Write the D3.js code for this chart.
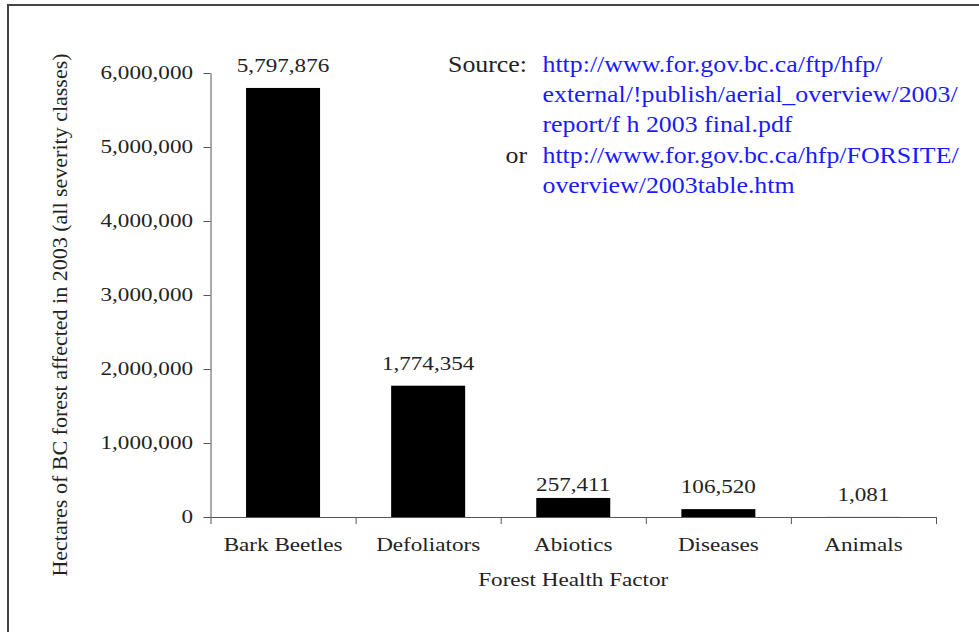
<!DOCTYPE html>
<html>
<head>
<meta charset="utf-8">
<script src="https://cdn.jsdelivr.net/npm/d3@7"></script>
<style>
  html, body { margin: 0; padding: 0; background: #fff; }
  svg { display: block; }
  text { font-family: "Liberation Serif", "Times New Roman", serif; }
</style>
</head>
<body>
<div id="chart"></div>
<script>
// --- DATA ---
const categories = ["Bark Beetles", "Defoliators", "Abiotics", "Diseases", "Animals"];
const hectares = [5797876, 1774354, 257411, 106520, 1081];
const yTicks = [0, 1000000, 2000000, 3000000, 4000000, 5000000, 6000000];
const sourceLines = [
    { lead: "Source:", text: "http://www.for.gov.bc.ca/ftp/hfp/" },
    { lead: "", text: "external/!publish/aerial_overview/2003/" },
    { lead: "", text: "report/f h 2003 final.pdf" },
    { lead: "or", text: "http://www.for.gov.bc.ca/hfp/FORSITE/" },
    { lead: "", text: "overview/2003table.htm" }
];

// --- SETUP ---
const width = 979, height = 632;
const SX = 1.25;            // the picture's type is stretched sideways
const ink = "#222", axisInk = "#555";

const svg = d3.select("#chart").append("svg")
    .attr("width", width)
    .attr("height", height);

// outer frame, runs off the right and bottom edge
svg.append("rect")
    .attr("x", 8).attr("y", 5)
    .attr("width", 990).attr("height", 650)
    .attr("fill", "none")
    .attr("stroke", "#444")
    .attr("stroke-width", 2);

const x0 = 210.5, x1 = 936, yBase = 517, yTop = 73;

const x = d3.scaleBand()
    .domain(categories)
    .range([x0, x1])
    .paddingInner(0.49)
    .paddingOuter(0.245);

const y = d3.scaleLinear()
    .domain([0, 6000000])
    .range([yBase, yTop]);

const fmt = d3.format(",");

// --- AXES ---
const yAxis = svg.append("g")
    .attr("transform", `translate(${x0},0)`)
    .call(d3.axisLeft(y).tickValues(yTicks).tickFormat(fmt).tickSizeInner(7).tickSizeOuter(0).tickPadding(7));
yAxis.select(".domain").attr("stroke", axisInk);
yAxis.selectAll(".tick line").attr("stroke", axisInk);
yAxis.selectAll(".tick text")
    .attr("fill", ink)
    .attr("font-size", 18.5)
    .attr("font-family", "Liberation Serif, serif")
    .attr("transform", `scale(${SX},1)`);

// tick marks sit between the categories
const xEdge = d3.scaleLinear().domain([0, categories.length]).range([x0, x1]);
const xTicks = svg.append("g")
    .attr("transform", `translate(0,${yBase})`)
    .call(d3.axisBottom(xEdge).ticks(categories.length).tickFormat("").tickSizeInner(7).tickSizeOuter(0));
xTicks.select(".domain").attr("stroke", axisInk);
xTicks.selectAll(".tick line").attr("stroke", axisInk);

const xLabels = svg.append("g")
    .attr("transform", `translate(0,${yBase})`)
    .call(d3.axisBottom(x).tickSize(0).tickPadding(0));
xLabels.select(".domain").remove();
xLabels.selectAll(".tick text")
    .attr("y", 34)
    .attr("dy", null)
    .attr("fill", ink)
    .attr("font-size", 18.5)
    .attr("font-family", "Liberation Serif, serif")
    .attr("transform", `scale(${SX},1)`);

// --- BARS ---
svg.append("g")
    .selectAll("rect")
    .data(categories)
    .join("rect")
    .attr("x", d => x(d))
    .attr("width", x.bandwidth())
    .attr("y", (d, i) => y(hectares[i]))
    .attr("height", (d, i) => yBase - y(hectares[i]))
    .attr("fill", "#000");

// value labels (Excel nudged the Abiotics one down a little)
const labelGap = { "Abiotics": 7 };
svg.append("g")
    .selectAll("text")
    .data(categories)
    .join("text")
    .attr("transform", (d, i) => `translate(${x(d) + x.bandwidth() / 2},${y(hectares[i]) - (labelGap[d] || 16)}) scale(${SX},1)`)
    .attr("text-anchor", "middle")
    .attr("font-size", 18.5)
    .attr("fill", ink)
    .text((d, i) => fmt(hectares[i]));

// --- TITLES ---
svg.append("text")
    .attr("transform", `translate(${(x0 + x1) / 2},586) scale(${SX},1)`)
    .attr("text-anchor", "middle")
    .attr("font-size", 18.5)
    .attr("fill", ink)
    .text("Forest Health Factor");

svg.append("text")
    .attr("transform", `translate(67,${(yTop + yBase) / 2 + 20}) rotate(-90)`)
    .attr("text-anchor", "middle")
    .attr("font-size", 22)
    .attr("fill", ink)
    .text("Hectares of BC forest affected in 2003 (all severity classes)");

// --- SOURCE NOTE ---
const note = svg.append("g");
sourceLines.forEach((ln, i) => {
    const by = 71.5 + i * 30.4;
    if (ln.lead) {
        note.append("text")
            .attr("transform", `translate(527,${by}) scale(1.15,1)`)
            .attr("text-anchor", "end")
            .attr("font-size", 22.5)
            .attr("fill", ink)
            .text(ln.lead);
    }
    note.append("text")
        .attr("transform", `translate(542.5,${by}) scale(1.15,1)`)
        .attr("font-size", 22.5)
        .attr("fill", "#1a1aff")
        .text(ln.text);
});
</script>
</body>
</html>
